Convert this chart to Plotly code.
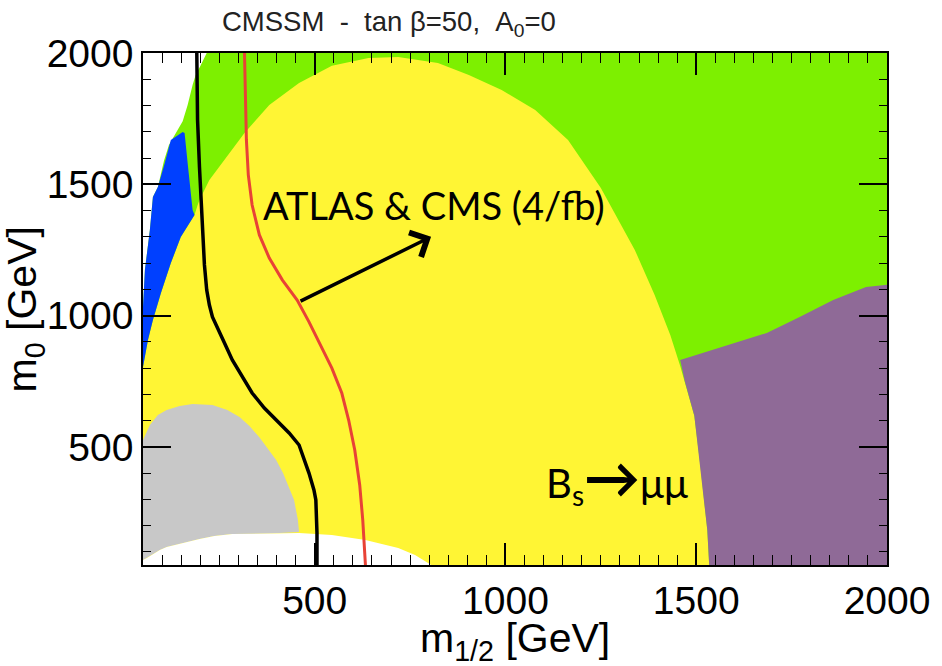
import plotly.graph_objects as go

# Parameter-plane extents (GeV)
M12_RANGE = [50, 2000]
M0_RANGE = [50, 2000]

# Whole plane (background region)
plane_m12 = [50, 2000, 2000, 50]
plane_m0 = [50, 50, 2000, 2000]

# Unphysical corner at small m1/2, large m0
corner_m12 = [50, 217, 200, 188, 180, 167, 154, 135, 118, 105, 89, 76, 68, 55, 50]
corner_m0 = [2000, 2000, 1950, 1916, 1878, 1802, 1740, 1690, 1650, 1590, 1490, 1452, 1326, 1174, 1033]

# Large central region
central_m12 = [50, 50, 63, 76, 97, 123, 149, 185, 193, 198, 224, 264, 316, 381, 459, 545, 641,
               719, 823, 904, 990, 1078, 1164, 1250, 1339, 1391, 1432, 1458, 1495, 1511, 1529, 1534]
central_m0 = [50, 804, 907, 983, 1086, 1200, 1299, 1383, 1420, 1440, 1516, 1593, 1695, 1802, 1886, 1951, 1981,
              1985, 1962, 1916, 1859, 1783, 1669, 1486, 1250, 1078, 926, 808, 618, 427, 183, 50]

# Narrow strip along the left edge
strip_m12 = [154, 123, 107, 89, 76, 68, 55, 50, 50, 63, 76, 97, 123, 149, 185, 180, 167, 159]
strip_m0 = [1699, 1669, 1581, 1490, 1452, 1326, 1174, 1033, 804, 907, 983, 1086, 1200, 1299, 1383, 1402, 1581, 1695]

# Low-mass region
low_m12 = [50, 68, 89, 112, 146, 180, 232, 271, 303, 329, 355, 381, 399, 417, 433, 446, 451, 456, 459,
           381, 284, 237, 198, 154, 112, 94, 76, 60, 50]
low_m0 = [526, 583, 621, 640, 656, 663, 659, 640, 614, 579, 537, 488, 450, 400, 347, 298, 259, 221, 176,
          170, 168, 160, 149, 134, 119, 107, 92, 77, 69]

# Band at small m0
band_m12 = [50, 50, 60, 76, 94, 112, 154, 198, 237, 284, 381, 459, 545, 633, 719, 763, 797, 805]
band_m0 = [50, 69, 77, 92, 107, 119, 134, 149, 160, 168, 170, 172, 164, 145, 115, 88, 58, 50]

# B_s -> mu mu excluded region
bsmm_m12 = [1458, 1573, 1685, 1771, 1859, 1945, 2000, 2000, 1534, 1529, 1511, 1495, 1470, 1458]
bsmm_m0 = [831, 884, 934, 995, 1059, 1109, 1117, 50, 50, 183, 427, 618, 750, 831]

# Exclusion contours
black_m12 = [191, 191, 193, 198, 206, 211, 217, 224, 232, 250, 266, 284, 310, 336, 368, 399, 433,
             459, 472, 485, 498, 503, 506, 506]
black_m0 = [2000, 1947, 1745, 1566, 1315, 1193, 1097, 1040, 995, 934, 888, 831, 766, 705, 648, 602, 553,
            507, 457, 400, 336, 298, 172, 50]

red_m12 = [316, 318, 321, 326, 336, 355, 381, 415, 454, 485, 516, 545, 571, 589, 605, 618, 626, 631, 633]
red_m0 = [2000, 1821, 1669, 1536, 1421, 1307, 1219, 1136, 1059, 976, 888, 800, 705, 602, 488, 355, 221, 126, 50]

GREEN = "#7df000"
YELLOW = "#fff534"
BLUE = "#0040ff"
GRAY = "#c8c8c8"
PURPLE = "#8f6a97"

fig = go.Figure()


def region(xs, ys, color):
    fig.add_trace(go.Scatter(x=xs, y=ys, mode="lines", fill="toself", fillcolor=color,
                             line=dict(width=0, color=color), hoverinfo="skip", showlegend=False))


region(plane_m12, plane_m0, GREEN)
region(corner_m12, corner_m0, "white")
region(central_m12, central_m0, YELLOW)
region(strip_m12, strip_m0, BLUE)
region(low_m12, low_m0, GRAY)
region(band_m12, band_m0, "white")
region(bsmm_m12, bsmm_m0, PURPLE)

fig.add_trace(go.Scatter(x=black_m12, y=black_m0, mode="lines",
                         line=dict(color="black", width=3.5), showlegend=False))
fig.add_trace(go.Scatter(x=red_m12, y=red_m0, mode="lines",
                         line=dict(color="#e84236", width=3), showlegend=False))

TICK_FONT = dict(family="Liberation Sans, Arial, sans-serif", size=39, color="black")
axis_common = dict(showgrid=False, zeroline=False, showline=True, linecolor="black", linewidth=1.5,
                   mirror="allticks", ticks="inside", tickcolor="black", tickwidth=1.5,
                   tickfont=TICK_FONT, tick0=0, dtick=500)

fig.update_xaxes(range=M12_RANGE, ticklen=22,
                 minor=dict(ticks="inside", dtick=50, tick0=0, ticklen=10, tickcolor="black", tickwidth=1.4),
                 **axis_common)
fig.update_yaxes(range=M0_RANGE, ticklen=28,
                 minor=dict(ticks="inside", dtick=100, tick0=0, ticklen=8, tickcolor="black", tickwidth=1.4),
                 **axis_common)

NB = "\u00a0"
LABEL_FONT = "Liberation Sans, Arial, sans-serif"
annotations = [
    dict(text=f"CMSSM{NB}{NB}-{NB}{NB}tan{NB}β=50,{NB}{NB}A<sub>0</sub>=0", xref="paper", yref="paper",
         x=0.331, y=1.057, xanchor="center", yanchor="middle", showarrow=False,
         font=dict(family=LABEL_FONT, size=27.5, color="#222222")),
    dict(text="m<sub>1/2</sub> [GeV]", xref="paper", yref="paper", x=0.5, y=-0.149,
         xanchor="center", yanchor="middle", showarrow=False,
         font=dict(family=LABEL_FONT, size=41, color="black")),
    dict(text="m<sub>0</sub> [GeV]", xref="paper", yref="paper", x=-0.158, y=0.5, textangle=-90,
         xanchor="center", yanchor="middle", showarrow=False,
         font=dict(family=LABEL_FONT, size=41, color="black")),
    dict(text="ATLAS & CMS (4/fb)", xref="x", yref="y", x=813, y=1421, xanchor="center", yanchor="middle",
         showarrow=False, font=dict(family="Lato, sans-serif", size=38, color="black")),
    dict(text='B<sub>s</sub><span style="font-size:56px"><b>→</b></span>μμ', xref="x", yref="y",
         x=1292, y=382, xanchor="center", yanchor="middle",
         showarrow=False, font=dict(family="Lato, sans-serif", size=40, color="black")),
    dict(text="", xref="x", yref="y", x=805, y=1300, axref="x", ayref="y", ax=459, ay=1052,
         showarrow=True, arrowhead=4, arrowsize=1.5, arrowwidth=3.5, arrowcolor="black"),
]

fig.update_layout(width=942, height=666, margin=dict(l=143, r=50, t=53, b=101),
                  paper_bgcolor="white", plot_bgcolor="white", showlegend=False,
                  annotations=annotations)

fig.write_html("out.html")
